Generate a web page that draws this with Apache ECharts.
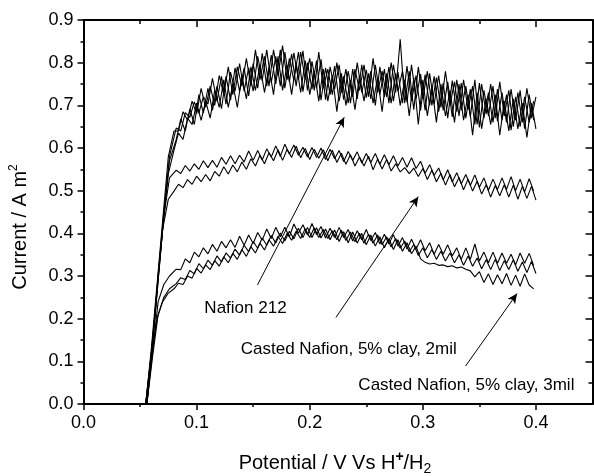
<!DOCTYPE html>
<html>
<head>
<meta charset="utf-8">
<script src="https://cdn.jsdelivr.net/npm/echarts@6/dist/echarts.min.js"></script>
<style>
  html, body { margin: 0; padding: 0; background: #fff; }
  #chart { width: 594px; height: 476px; }
</style>
</head>
<body>
<div id="chart"></div>
<script>
// tick positions
var xMajor = [0, 0.1, 0.2, 0.3, 0.4];
var xMinor = [0.05, 0.15, 0.25, 0.35];
var yMajor = [0, 0.1, 0.2, 0.3, 0.4, 0.5, 0.6, 0.7, 0.8, 0.9];
var yMinor = [0.05, 0.15, 0.25, 0.35, 0.45, 0.55, 0.65, 0.75, 0.85];

// potential (V), onset part + scan part
var riseA = [0.055, 0.06, 0.065, 0.07, 0.075];
var riseB = [0.056, 0.061, 0.066, 0.071, 0.076];
var gridA = [0.08, 0.084, 0.088, 0.092, 0.096, 0.1, 0.104, 0.108, 0.112, 0.116, 0.12, 0.124, 0.128, 0.132, 0.136, 0.14, 0.144, 0.148, 0.152, 0.156,
    0.16, 0.164, 0.168, 0.172, 0.176, 0.18, 0.184, 0.188, 0.192, 0.196, 0.2, 0.204, 0.208, 0.212, 0.216, 0.22, 0.224, 0.228, 0.232, 0.236,
    0.24, 0.244, 0.248, 0.252, 0.256, 0.26, 0.264, 0.268, 0.272, 0.276, 0.28, 0.284, 0.288, 0.292, 0.296, 0.3, 0.304, 0.308, 0.312, 0.316,
    0.32, 0.324, 0.328, 0.332, 0.336, 0.34, 0.344, 0.348, 0.352, 0.356, 0.36, 0.364, 0.368, 0.372, 0.376, 0.38, 0.384, 0.388, 0.392, 0.396, 0.4];
var gridB = [0.082, 0.086, 0.09, 0.094, 0.098, 0.102, 0.106, 0.11, 0.114, 0.118, 0.122, 0.126, 0.13, 0.134, 0.138, 0.142, 0.146, 0.15, 0.154, 0.158,
    0.162, 0.166, 0.17, 0.174, 0.178, 0.182, 0.186, 0.19, 0.194, 0.198, 0.202, 0.206, 0.21, 0.214, 0.218, 0.222, 0.226, 0.23, 0.234, 0.238,
    0.242, 0.246, 0.25, 0.254, 0.258, 0.262, 0.266, 0.27, 0.274, 0.278, 0.282, 0.286, 0.29, 0.294, 0.298, 0.302, 0.306, 0.31, 0.314, 0.318,
    0.322, 0.326, 0.33, 0.334, 0.338, 0.342, 0.346, 0.35, 0.354, 0.358, 0.362, 0.366, 0.37, 0.374, 0.378, 0.382, 0.386, 0.39, 0.394, 0.398];

// Nafion 212 (current, A m^2)
var nafionA = [0, 0.13, 0.28, 0.43, 0.58,
    0.64, 0.64, 0.685, 0.665, 0.71, 0.68, 0.74, 0.695, 0.745, 0.70,
    0.77, 0.725, 0.79, 0.725, 0.79, 0.745, 0.81, 0.745, 0.83, 0.76,
    0.815, 0.745, 0.83, 0.77, 0.84, 0.76, 0.82, 0.745, 0.825, 0.76,
    0.81, 0.735, 0.825, 0.74, 0.785, 0.725, 0.80, 0.73, 0.785, 0.705,
    0.785, 0.735, 0.795, 0.72, 0.81, 0.73, 0.78, 0.72, 0.80, 0.73,
    0.855, 0.705, 0.78, 0.69, 0.79, 0.715, 0.78, 0.70, 0.765, 0.695,
    0.78, 0.70, 0.755, 0.675, 0.76, 0.69, 0.745, 0.655, 0.75, 0.68,
    0.75, 0.67, 0.755, 0.675, 0.735, 0.65, 0.73, 0.66, 0.74, 0.67,
    0.72];
var nafionB = [0, 0.14, 0.30, 0.45, 0.57,
    0.62, 0.668, 0.64, 0.692, 0.655, 0.725, 0.682, 0.74, 0.688, 0.745,
    0.692, 0.768, 0.712, 0.788, 0.732, 0.788, 0.722, 0.798, 0.74, 0.822,
    0.745, 0.818, 0.75, 0.83, 0.74, 0.81, 0.758, 0.825, 0.732, 0.80,
    0.738, 0.805, 0.712, 0.788, 0.725, 0.792, 0.71, 0.768, 0.705, 0.785,
    0.715, 0.795, 0.718, 0.78, 0.70, 0.79, 0.72, 0.79, 0.71, 0.778,
    0.705, 0.792, 0.71, 0.77, 0.688, 0.772, 0.70, 0.768, 0.685, 0.752,
    0.67, 0.758, 0.685, 0.752, 0.67, 0.738, 0.655, 0.752, 0.67, 0.73,
    0.66, 0.738, 0.665, 0.725, 0.642, 0.72, 0.65, 0.72, 0.66, 0.71];
var nafionC = [0, 0.12, 0.26, 0.41, 0.54,
    0.595, 0.635, 0.62, 0.67, 0.655, 0.705, 0.665, 0.71, 0.67, 0.735,
    0.695, 0.76, 0.695, 0.75, 0.695, 0.77, 0.715, 0.79, 0.735, 0.795,
    0.73, 0.79, 0.725, 0.815, 0.735, 0.795, 0.725, 0.80, 0.73, 0.805,
    0.725, 0.78, 0.71, 0.785, 0.71, 0.77, 0.685, 0.775, 0.70, 0.76,
    0.69, 0.77, 0.71, 0.775, 0.705, 0.765, 0.685, 0.775, 0.705, 0.775,
    0.70, 0.76, 0.675, 0.765, 0.655, 0.76, 0.675, 0.745, 0.66, 0.75,
    0.675, 0.735, 0.66, 0.75, 0.665, 0.725, 0.63, 0.73, 0.645, 0.715,
    0.655, 0.725, 0.63, 0.71, 0.64, 0.715, 0.645, 0.705, 0.625, 0.705,
    0.645];
var nafionD = [0, 0.13, 0.29, 0.44, 0.58,
    0.647, 0.64, 0.683, 0.672, 0.708, 0.682, 0.72, 0.703, 0.763, 0.71,
    0.768, 0.703, 0.778, 0.733, 0.798, 0.733, 0.788, 0.733, 0.815, 0.758,
    0.83, 0.753, 0.815, 0.745, 0.825, 0.755, 0.823, 0.76, 0.828, 0.735,
    0.803, 0.74, 0.808, 0.713, 0.79, 0.738, 0.795, 0.713, 0.78, 0.72,
    0.80, 0.73, 0.783, 0.715, 0.795, 0.725, 0.785, 0.705, 0.795, 0.733,
    0.78, 0.708, 0.795, 0.715, 0.773, 0.688, 0.775, 0.703, 0.77, 0.688,
    0.755, 0.673, 0.76, 0.688, 0.745, 0.673, 0.76, 0.648, 0.735, 0.675,
    0.745, 0.663, 0.73, 0.66, 0.738, 0.665, 0.735, 0.645, 0.725, 0.665];

// Casted Nafion, 5% clay, 2mil
var clay2A = [0, 0.14, 0.30, 0.44, 0.53,
    0.548, 0.54, 0.559, 0.546, 0.563, 0.55, 0.57, 0.554, 0.571, 0.555,
    0.578, 0.562, 0.582, 0.563, 0.583, 0.567, 0.593, 0.571, 0.594, 0.572,
    0.598, 0.579, 0.605, 0.58, 0.609, 0.586, 0.607, 0.583, 0.602, 0.579,
    0.601, 0.578, 0.60, 0.573, 0.597, 0.575, 0.594, 0.568, 0.592, 0.571,
    0.591, 0.565, 0.587, 0.566, 0.587, 0.562, 0.584, 0.561, 0.582, 0.558,
    0.578, 0.555, 0.577, 0.552, 0.569, 0.541, 0.561, 0.536, 0.553, 0.525,
    0.549, 0.52, 0.542, 0.516, 0.538, 0.512, 0.537, 0.508, 0.53, 0.501,
    0.527, 0.503, 0.53, 0.503, 0.533, 0.50, 0.527, 0.497, 0.528, 0.499];
var clay2B = [0, 0.12, 0.27, 0.41, 0.48,
    0.499, 0.515, 0.507, 0.526, 0.515, 0.534, 0.521, 0.538, 0.523, 0.545,
    0.534, 0.556, 0.539, 0.56, 0.544, 0.567, 0.55, 0.575, 0.558, 0.583,
    0.563, 0.589, 0.57, 0.596, 0.571, 0.597, 0.578, 0.604, 0.577, 0.599,
    0.573, 0.597, 0.576, 0.596, 0.57, 0.595, 0.566, 0.588, 0.562, 0.584,
    0.558, 0.579, 0.558, 0.581, 0.549, 0.574, 0.551, 0.573, 0.546, 0.563,
    0.544, 0.554, 0.54, 0.553, 0.533, 0.552, 0.526, 0.548, 0.521, 0.541,
    0.513, 0.538, 0.509, 0.531, 0.502, 0.527, 0.499, 0.522, 0.492, 0.514,
    0.485, 0.512, 0.488, 0.514, 0.485, 0.513, 0.48, 0.51, 0.482, 0.51,
    0.478];

// Casted Nafion, 5% clay, 3mil
var clay3A = [0, 0.12, 0.24, 0.28, 0.30,
    0.316, 0.315, 0.34, 0.331, 0.356, 0.345, 0.366, 0.352, 0.374, 0.358,
    0.381, 0.366, 0.385, 0.367, 0.393, 0.372, 0.396, 0.376, 0.402, 0.384,
    0.41, 0.388, 0.414, 0.392, 0.414, 0.392, 0.422, 0.40, 0.42, 0.396,
    0.423, 0.397, 0.416, 0.389, 0.412, 0.39, 0.414, 0.39, 0.409, 0.382,
    0.406, 0.385, 0.409, 0.383, 0.402, 0.375, 0.398, 0.375, 0.397, 0.37,
    0.39, 0.363, 0.386, 0.363, 0.385, 0.359, 0.378, 0.351, 0.374, 0.351,
    0.373, 0.347, 0.366, 0.339, 0.366, 0.339, 0.375, 0.335, 0.356, 0.331,
    0.356, 0.33, 0.354, 0.33, 0.351, 0.326, 0.354, 0.33, 0.353, 0.325];
var clay3B = [0, 0.11, 0.20, 0.24, 0.26,
    0.27, 0.283, 0.28, 0.30, 0.295, 0.318, 0.307, 0.326, 0.315, 0.336,
    0.323, 0.345, 0.331, 0.353, 0.339, 0.362, 0.346, 0.369, 0.354, 0.377,
    0.361, 0.385, 0.37, 0.393, 0.376, 0.40, 0.384, 0.405, 0.388, 0.411,
    0.39, 0.413, 0.39, 0.409, 0.388, 0.406, 0.385, 0.407, 0.383, 0.403,
    0.38, 0.40, 0.377, 0.398, 0.377, 0.396, 0.373, 0.392, 0.368, 0.388,
    0.365, 0.382, 0.357, 0.374, 0.348, 0.366, 0.343, 0.362, 0.339, 0.358,
    0.335, 0.354, 0.331, 0.35, 0.325, 0.347, 0.323, 0.342, 0.317, 0.338,
    0.315, 0.339, 0.313, 0.336, 0.315, 0.338, 0.311, 0.333, 0.308, 0.334,
    0.306];
var clay3C = [0, 0.11, 0.21, 0.25, 0.27,
    0.282, 0.296, 0.292, 0.313, 0.305, 0.329, 0.317, 0.337, 0.325, 0.347,
    0.333, 0.354, 0.342, 0.363, 0.349, 0.372, 0.357, 0.381, 0.365, 0.389,
    0.372, 0.395, 0.377, 0.401, 0.382, 0.405, 0.387, 0.412, 0.39, 0.414,
    0.39, 0.413, 0.389, 0.41, 0.385, 0.408, 0.381, 0.404, 0.378, 0.403,
    0.377, 0.40, 0.373, 0.396, 0.37, 0.392, 0.366, 0.388, 0.362, 0.385,
    0.358, 0.378, 0.352, 0.37, 0.34, 0.332, 0.328, 0.33, 0.325, 0.326,
    0.322, 0.324, 0.319, 0.321, 0.316, 0.312, 0.298, 0.31, 0.285, 0.305,
    0.28, 0.303, 0.282, 0.306, 0.278, 0.302, 0.276, 0.305, 0.279, 0.27];

// annotations: label centres and arrows [from, to] in data units
var labelNames = ['Nafion 212', 'Casted Nafion, 5% clay, 2mil', 'Casted Nafion, 5% clay, 3mil'];
var labelPos = [[0.1432, 0.225], [0.2345, 0.129], [0.3385, 0.0434]];
var arrowFrom = [[0.1538, 0.279], [0.2232, 0.203], [0.3378, 0.089]];
var arrowTo = [[0.2305, 0.672], [0.296, 0.486], [0.3833, 0.259]];

var FONT = 'Liberation Sans, Arial, Helvetica, sans-serif';

function pairs(xs, ys) {
    var out = [];
    for (var i = 0; i < ys.length; ++i) {
        out.push([xs[i], ys[i]]);
    }
    return out;
}

function trace(name, xs, ys) {
    return {
        name: name,
        type: 'line',
        data: pairs(xs, ys),
        showSymbol: false,
        symbol: 'none',
        silent: true,
        lineStyle: {color: '#000', width: 1.1},
        animation: false
    };
}

function axisX(pos, ticks, len, inside, showLine, showLabel) {
    return {
        type: 'value', position: pos, min: 0, max: 0.45,
        axisLine: {show: showLine, onZero: false, lineStyle: {color: '#000', width: 2}},
        axisTick: {show: true, inside: inside, length: len, customValues: ticks,
            lineStyle: {color: '#000', width: 1.5}},
        axisLabel: {show: showLabel, customValues: ticks, margin: 10,
            fontFamily: FONT, fontSize: 18, color: '#000',
            formatter: function (v) { return v.toFixed(1); }},
        splitLine: {show: false}
    };
}

function axisY(pos, ticks, len, inside, showLine, showLabel) {
    return {
        type: 'value', position: pos, min: 0, max: 0.9,
        axisLine: {show: showLine, onZero: false, lineStyle: {color: '#000', width: 2}},
        axisTick: {show: true, inside: inside, length: len, customValues: ticks,
            lineStyle: {color: '#000', width: 1.5}},
        axisLabel: {show: showLabel, customValues: ticks, margin: 10,
            fontFamily: FONT, fontSize: 18, color: '#000',
            formatter: function (v) { return v.toFixed(1); }},
        splitLine: {show: false}
    };
}

var potA = riseA.concat(gridA);
var potB = riseB.concat(gridB);

var arrowData = [];
for (var k = 0; k < arrowFrom.length; ++k) {
    arrowData.push([{coord: arrowFrom[k]}, {coord: arrowTo[k]}]);
}
var labelData = [];
for (var k2 = 0; k2 < labelNames.length; ++k2) {
    labelData.push({name: labelNames[k2], value: labelPos[k2]});
}

var series = [
    trace('Nafion 212 a', potA, nafionA),
    trace('Nafion 212 b', potB, nafionB),
    trace('Nafion 212 c', potA, nafionC),
    trace('Nafion 212 d', potB, nafionD),
    trace('2mil a', potB, clay2A),
    trace('2mil b', potA, clay2B),
    trace('3mil a', potB, clay3A),
    trace('3mil b', potA, clay3B),
    trace('3mil c', potB, clay3C)
];

series[0].markLine = {
    silent: true,
    animation: false,
    symbol: ['none', 'arrow'],
    symbolSize: [7, 10],
    label: {show: false},
    lineStyle: {color: '#000', width: 1, type: 'solid'},
    data: arrowData
};

// text labels next to the arrows
series.push({
    type: 'scatter',
    silent: true,
    symbolSize: 0,
    animation: false,
    itemStyle: {opacity: 1},
    data: labelData,
    label: {
        show: true, position: 'inside', formatter: '{b}',
        fontFamily: FONT, fontSize: 17, color: '#000', opacity: 1
    }
});

var chart = echarts.init(document.getElementById('chart'), null, {renderer: 'canvas'});

var option = {
    backgroundColor: '#fff',
    animation: false,
    grid: {left: 83.5, right: 1.5, top: 20, bottom: 72, containLabel: false},
    xAxis: [
        axisX('bottom', xMajor, 6, false, true, true),
        axisX('bottom', xMinor, 3, false, false, false),
        axisX('top', xMajor, 7, true, true, false),
        axisX('top', xMinor, 4, true, false, false)
    ],
    yAxis: [
        axisY('left', yMajor, 6, false, true, true),
        axisY('left', yMinor, 3, false, false, false),
        axisY('right', yMajor, 7, true, true, false),
        axisY('right', yMinor, 4, true, false, false)
    ],
    graphic: [
        {
            type: 'text', x: 20, y: 227, rotation: Math.PI / 2, silent: true,
            style: {
                text: '{a|Current / A m}{s|2}',
                align: 'center', verticalAlign: 'middle', fill: '#000',
                rich: {
                    a: {fontFamily: FONT, fontSize: 20, color: '#000', lineHeight: 24},
                    s: {fontFamily: FONT, fontSize: 12, color: '#000', verticalAlign: 'top', lineHeight: 24}
                }
            }
        },
        {
            type: 'text', x: 335, y: 463, silent: true,
            style: {
                text: '{a|Potential / V Vs H}{s|+}{a|/H}{b|2}',
                align: 'center', verticalAlign: 'middle', fill: '#000',
                rich: {
                    a: {fontFamily: FONT, fontSize: 20, color: '#000', lineHeight: 26},
                    s: {fontFamily: FONT, fontSize: 14, fontWeight: 'bold', color: '#000', verticalAlign: 'top', lineHeight: 26},
                    b: {fontFamily: FONT, fontSize: 14, color: '#000', verticalAlign: 'bottom', lineHeight: 26}
                }
            }
        }
    ],
    series: series
};

chart.setOption(option);
</script>
</body>
</html>
